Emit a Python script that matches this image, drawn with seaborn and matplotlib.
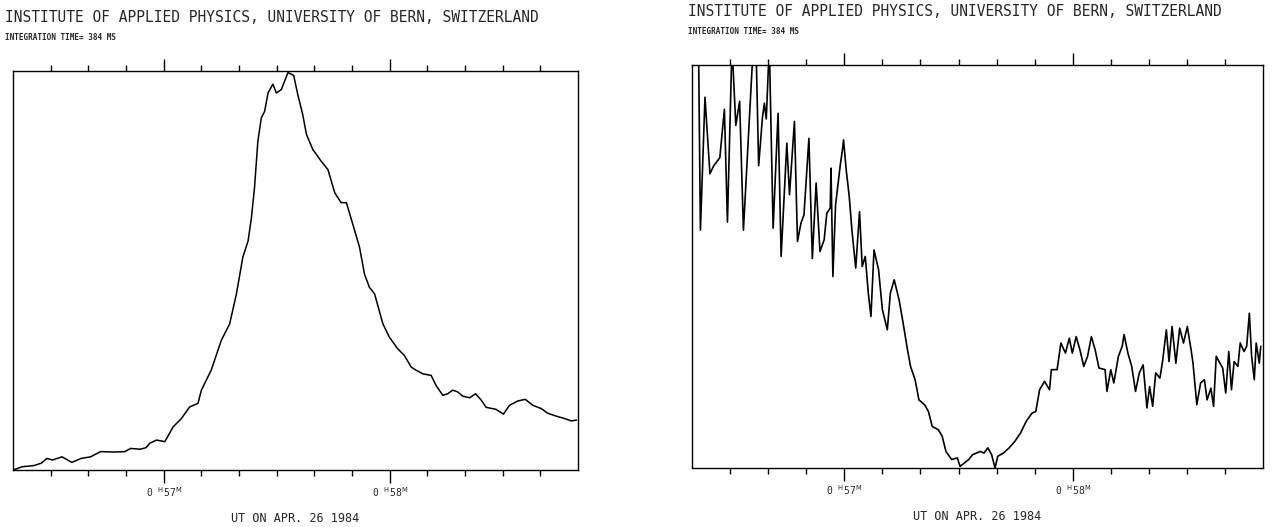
import matplotlib
matplotlib.use("Agg")
import matplotlib.pyplot as plt
import seaborn as sns
import pandas as pd

# time in seconds after 0h56m20s UT, intensity normalised to the plot frame
left_t = [0, 2.4, 5.5, 7.5, 9, 10.5, 13, 15.6, 18.1, 20.6, 23.2, 26.7, 29.7, 31.2,
          33.8, 35.3, 36.3, 38.1, 40.3, 42.5, 44.7, 46.9, 49.1, 50.0, 52.6, 55.3,
          57.5, 59.3, 61.0, 62.4, 63.3, 64.1, 65.0, 65.9, 66.8, 67.7, 69.0, 69.9,
          71.2, 73.0, 74.5, 75.6, 76.9, 77.9, 79.6, 81.8, 83.6, 85.4, 87.1, 88.5,
          90.2, 92.0, 93.3, 94.6, 96.0, 98.2, 99.9, 102.1, 103.9, 105.7, 107.0,
          108.8, 111.0, 112.3, 114.1, 115.4, 116.7, 118.0, 119.4, 121.2, 122.8,
          124.3, 125.6, 128.2, 130.2, 131.8, 134.0, 136.0, 138.0, 140.2, 142.0,
          144.2, 146.4, 148.2, 149.6]
left_v = [0.0, 0.008, 0.011, 0.017, 0.029, 0.025, 0.033, 0.019, 0.029, 0.033, 0.046,
          0.045, 0.046, 0.054, 0.052, 0.056, 0.067, 0.075, 0.071, 0.108, 0.129, 0.158,
          0.167, 0.20, 0.25, 0.325, 0.366, 0.441, 0.533, 0.574, 0.633, 0.707, 0.824,
          0.882, 0.899, 0.945, 0.967, 0.945, 0.953, 0.996, 0.989, 0.941, 0.891, 0.841,
          0.803, 0.774, 0.753, 0.695, 0.67, 0.67, 0.616, 0.558, 0.491, 0.458, 0.441,
          0.366, 0.333, 0.304, 0.287, 0.258, 0.25, 0.241, 0.237, 0.212, 0.187, 0.191,
          0.20, 0.196, 0.185, 0.181, 0.191, 0.175, 0.157, 0.152, 0.14, 0.162, 0.173,
          0.177, 0.162, 0.154, 0.142, 0.135, 0.129, 0.123, 0.125]

right_t = [0.4, 1.7, 2.2, 3.4, 4.7, 5.7, 7.3, 8.5, 9.3, 10.5, 11.5, 12.5, 13.5, 16.1,
           16.8, 17.5, 18.5, 19.0, 19.5, 20.3, 21.3, 22.6, 23.4, 24.9, 25.6, 26.9,
           27.7, 28.6, 29.4, 30.7, 31.6, 32.6, 33.6, 34.7, 35.4, 36.3, 36.5, 37.0,
           37.7, 39.0, 39.5, 39.8, 40.5, 41.3, 42.0, 43.0, 44.0, 44.7, 45.5, 46.3,
           47.0, 47.8, 49.0, 50.0, 51.3, 52.1, 53.1, 54.4, 55.6, 56.6, 57.4, 58.6,
           59.6, 61.1, 62.1, 63.1, 64.7, 65.7, 66.7, 68.2, 69.7, 70.4, 71.5, 72.7,
           73.7, 74.7, 75.7, 76.7, 77.7, 78.7, 79.6, 80.3, 81.8, 83.3, 84.8, 86.3,
           87.8, 89.3, 90.3, 91.3, 92.6, 93.9, 94.4, 95.9, 96.9, 98.1, 99.1, 99.9,
           100.9, 101.9, 102.9, 103.9, 104.9, 105.9, 106.9, 108.5, 109.0, 110.0,
           110.8, 112.0, 113.0, 113.5, 114.5, 115.5, 116.5, 117.5, 118.5, 119.5,
           120.2, 121.0, 121.8, 122.9, 123.6, 124.6, 125.3, 126.1, 127.1, 128.1,
           129.1, 130.1, 131.1, 131.6, 132.6, 133.6, 134.6, 135.3, 136.3, 137.0,
           137.7, 138.7, 139.4, 140.2, 141.0, 141.7, 142.4, 143.4, 144.0, 145.0,
           145.7, 146.4, 147.0, 147.7, 148.2, 149.0, 149.4]
right_v = [1.05, 1.05, 0.59, 0.92, 0.73, 0.75, 0.77, 0.89, 0.61, 1.05, 0.85, 0.91,
           0.59, 1.05, 1.05, 0.75, 0.87, 0.905, 0.866, 1.05, 0.595, 0.88, 0.525,
           0.806, 0.678, 0.86, 0.562, 0.607, 0.628, 0.818, 0.52, 0.707, 0.537, 0.566,
           0.632, 0.645, 0.744, 0.475, 0.653, 0.756, 0.789, 0.814, 0.74, 0.673, 0.59,
           0.496, 0.636, 0.5, 0.525, 0.434, 0.376, 0.541, 0.492, 0.393, 0.343, 0.434,
           0.467, 0.417, 0.351, 0.293, 0.252, 0.219, 0.169, 0.157, 0.14, 0.103, 0.095,
           0.079, 0.041, 0.021, 0.025, 0.004, 0.012, 0.021, 0.033, 0.037, 0.041,
           0.037, 0.05, 0.033, 0.0, 0.029, 0.037, 0.05, 0.066, 0.087, 0.116, 0.136,
           0.14, 0.194, 0.215, 0.194, 0.244, 0.244, 0.31, 0.285, 0.322, 0.285, 0.326,
           0.293, 0.252, 0.277, 0.326, 0.293, 0.248, 0.244, 0.19, 0.244, 0.211, 0.277,
           0.302, 0.331, 0.285, 0.252, 0.19, 0.236, 0.256, 0.149, 0.202, 0.153, 0.236,
           0.223, 0.264, 0.343, 0.264, 0.351, 0.26, 0.347, 0.31, 0.351, 0.293, 0.26,
           0.157, 0.211, 0.219, 0.169, 0.198, 0.153, 0.277, 0.26, 0.248, 0.186, 0.289,
           0.194, 0.264, 0.252, 0.31, 0.289, 0.302, 0.384, 0.277, 0.219, 0.31, 0.26,
           0.302]

minute_ticks = [40, 100]
minute_labels = [r'0 $^{\rm H}$57$^{\rm M}$', r'0 $^{\rm H}$58$^{\rm M}$']
minor_ticks = [t for t in range(10, 150, 10) if t not in minute_ticks]

title = 'INSTITUTE OF APPLIED PHYSICS, UNIVERSITY OF BERN, SWITZERLAND'
subtitle = 'INTEGRATION TIME= 384 MS'
xlabel = 'UT ON APR. 26 1984'

sns.set_style('ticks')
plt.rcParams['font.family'] = ['DejaVu Sans Mono', 'DejaVu Sans']

fig = plt.figure(figsize=(12.78, 5.27), dpi=100)
ax_l = fig.add_axes([0.0102, 0.1082, 0.4421, 0.7571])
ax_r = fig.add_axes([0.5415, 0.1120, 0.4468, 0.7647])

df_l = pd.DataFrame({'t': left_t, 'v': left_v})
df_r = pd.DataFrame({'t': right_t, 'v': right_v})
sns.lineplot(data=df_l, x='t', y='v', ax=ax_l, color='black', lw=1.1, sort=False)
sns.lineplot(data=df_r, x='t', y='v', ax=ax_r, color='black', lw=1.2, sort=False)

for ax in (ax_l, ax_r):
    ax.set_xlim(0, 150)
    ax.set_ylim(0, 1)
    for s in ax.spines.values():
        s.set_visible(True)
        s.set_linewidth(1.0)
        s.set_color('black')
    ax.set_yticks([])
    ax.set_ylabel('')
    ax.set_xticks(minute_ticks)
    ax.set_xticklabels(minute_labels, fontsize=7)
    ax.set_xticks(minor_ticks, minor=True)
    ax.tick_params(axis='x', which='major', direction='out', length=9, width=1.0,
                   top=True, bottom=True, labeltop=False, pad=2, color='black')
    ax.tick_params(axis='x', which='minor', direction='out', length=4.5, width=1.0,
                   top=True, bottom=True, color='black')
    ax.set_xlabel(xlabel, fontsize=8.5, labelpad=9)

fig.text(5 / 1278, 1 - 17 / 527, title, fontsize=10.5, va='center', ha='left')
fig.text(5 / 1278, 1 - 37 / 527, subtitle, fontsize=5.5, fontweight='bold',
         va='center', ha='left')
fig.text(688 / 1278, 1 - 12 / 527, title, fontsize=10.5, va='center', ha='left')
fig.text(688 / 1278, 1 - 32 / 527, subtitle, fontsize=5.5, fontweight='bold',
         va='center', ha='left')

fig.savefig('out.png', dpi=100, facecolor='white')
